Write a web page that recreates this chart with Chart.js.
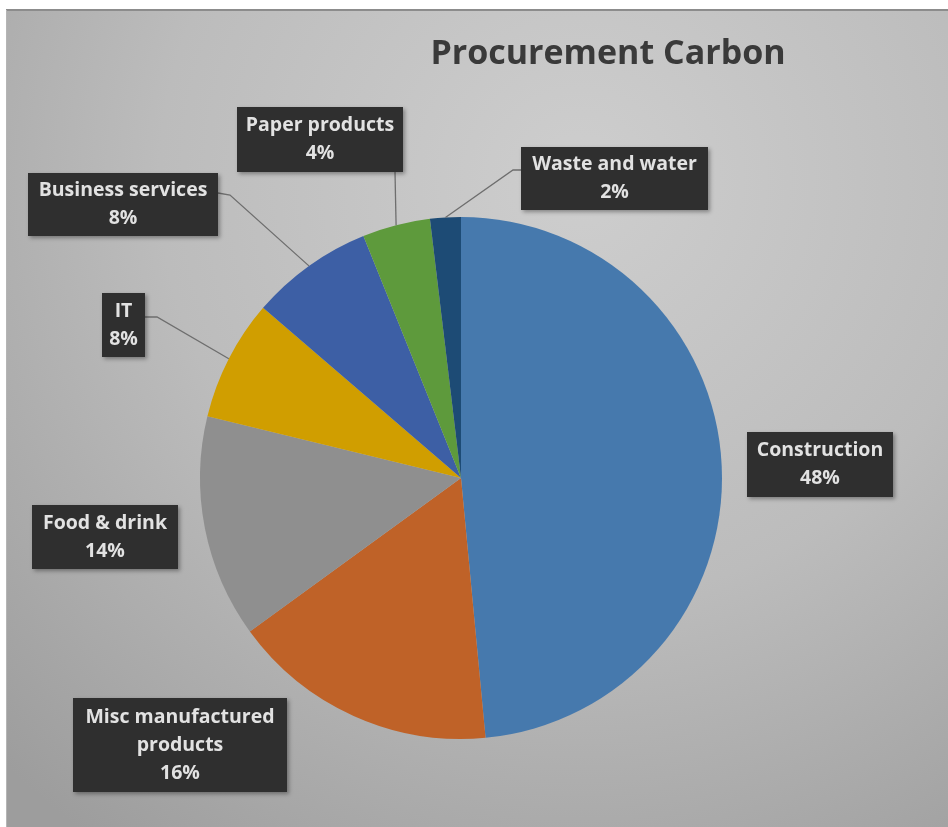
<!DOCTYPE html>
<html>
<head>
<meta charset="utf-8">
<script src="https://cdn.jsdelivr.net/npm/chart.js@4.4.1/dist/chart.umd.min.js"></script>
<style>
  html, body { margin: 0; padding: 0; background: #ffffff; }
  #wrap { position: relative; width: 948px; height: 827px; }
</style>
</head>
<body>
<div id="wrap"><canvas id="c" width="948" height="827"></canvas></div>
<script>
// ---- data ----
const chartTitle = 'Procurement Carbon';
const categories = ['Construction', 'Misc manufactured products', 'Food & drink', 'IT', 'Business services', 'Paper products', 'Waste and water'];
const labelLines = [['Construction'], ['Misc manufactured', 'products'], ['Food & drink'], ['IT'], ['Business services'], ['Paper products'], ['Waste and water']];
const shares = [48.5, 16.5, 13.8, 7.5, 7.6, 4.2, 1.9];
const pctLabels = ['48%', '16%', '14%', '8%', '8%', '4%', '2%'];
const sliceColors = ['#4679ad', '#bf6228', '#8f8f8f', '#d09e00', '#3d5fa5', '#5e9a3c', '#1d4b75'];

// ---- label box layout (annotation placement, not data) ----
const boxLayout = [
  { x: 747, y: 432, w: 146, h: 65, leader: null },
  { x: 73,  y: 698, w: 214, h: 94, leader: null },
  { x: 32,  y: 505, w: 146, h: 64, leader: null },
  { x: 102, y: 293, w: 43,  h: 64, leader: { from: [145, 317], elbow: [157, 317] } },
  { x: 28,  y: 173, w: 190, h: 63, leader: { from: [218, 193], elbow: [230, 195] } },
  { x: 237, y: 107, w: 166, h: 65, leader: { from: [395, 172], elbow: [395, 172] } },
  { x: 521, y: 147, w: 187, h: 63, leader: { from: [521, 170], elbow: [513, 170] } }
];

const bgPlugin = {
  id: 'bgPanel',
  beforeDraw(chart) {
    const ctx = chart.ctx;
    const W = chart.width, H = chart.height;
    ctx.save();
    ctx.fillStyle = '#ffffff';
    ctx.fillRect(0, 0, W, H);
    const g = ctx.createRadialGradient(580, 180, 20, 580, 180, 820);
    g.addColorStop(0, '#cdcdcd');
    g.addColorStop(0.5, '#bcbcbc');
    g.addColorStop(1, '#9d9d9d');
    ctx.fillStyle = g;
    ctx.fillRect(6, 10, W - 6, H - 10);
    ctx.strokeStyle = '#8c8c8c';
    ctx.lineWidth = 2;
    ctx.beginPath();
    ctx.moveTo(6, 10); ctx.lineTo(W, 10);
    ctx.stroke();
    ctx.strokeStyle = '#b5b5b5';
    ctx.lineWidth = 1;
    ctx.beginPath();
    ctx.moveTo(6.5, 10); ctx.lineTo(6.5, H);
    ctx.stroke();
    // title
    ctx.fillStyle = '#3a3a3a';
    ctx.font = 'bold 34px "Open Sans", "Lato", sans-serif';
    ctx.textAlign = 'center';
    ctx.textBaseline = 'middle';
    ctx.fillText(chartTitle, 608, 54);
    ctx.restore();
  }
};

const labelPlugin = {
  id: 'calloutLabels',
  afterDatasetsDraw(chart) {
    const ctx = chart.ctx;
    const meta = chart.getDatasetMeta(0);
    ctx.save();
    meta.data.forEach((arc, i) => {
      const b = boxLayout[i];
      const p = arc.getProps(['x', 'y', 'startAngle', 'endAngle', 'outerRadius'], true);
      const mid = (p.startAngle + p.endAngle) / 2;
      const ax = p.x + Math.cos(mid) * p.outerRadius;
      const ay = p.y + Math.sin(mid) * p.outerRadius;
      if (b.leader) {
        ctx.strokeStyle = '#6e6e6e';
        ctx.lineWidth = 1.3;
        ctx.beginPath();
        ctx.moveTo(b.leader.from[0], b.leader.from[1]);
        ctx.lineTo(b.leader.elbow[0], b.leader.elbow[1]);
        ctx.lineTo(ax, ay);
        ctx.stroke();
      }
      // box with shadow
      ctx.save();
      ctx.shadowColor = 'rgba(0,0,0,0.35)';
      ctx.shadowBlur = 4;
      ctx.shadowOffsetX = 2;
      ctx.shadowOffsetY = 2;
      ctx.fillStyle = '#2f2f2f';
      ctx.fillRect(b.x, b.y, b.w, b.h);
      ctx.restore();
      const lines = labelLines[i].concat([pctLabels[i]]);
      ctx.fillStyle = '#e2e2e2';
      ctx.font = 'bold 19.5px "Open Sans", "Lato", sans-serif';
      ctx.textAlign = 'center';
      ctx.textBaseline = 'middle';
      const lh = 28;
      const cx = b.x + b.w / 2;
      const cy = b.y + b.h / 2;
      const top = cy - (lines.length - 1) * lh / 2;
      lines.forEach((t, k) => ctx.fillText(t, cx, top + k * lh));
    });
    ctx.restore();
  }
};

new Chart(document.getElementById('c'), {
  type: 'pie',
  data: {
    labels: categories,
    datasets: [{
      data: shares,
      backgroundColor: sliceColors,
      borderWidth: 0,
      hoverOffset: 0
    }]
  },
  options: {
    responsive: false,
    animation: false,
    layout: { padding: { left: 200, right: 226, top: 217, bottom: 88 } },
    plugins: {
      legend: { display: false },
      title: { display: false },
      tooltip: { enabled: false }
    }
  },
  plugins: [bgPlugin, labelPlugin]
});
</script>
</body>
</html>
